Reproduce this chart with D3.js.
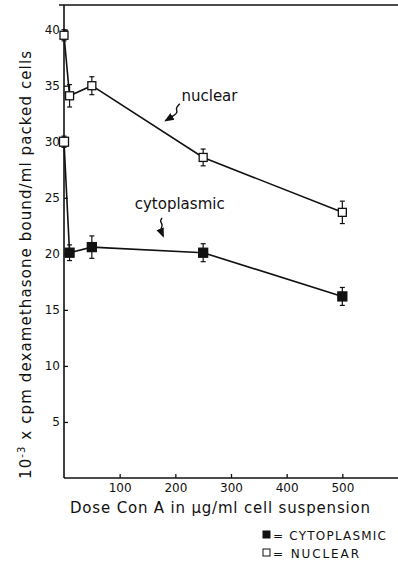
<!DOCTYPE html>
<html lang="en">
<head>
<meta charset="utf-8">
<title>Con A dose vs dexamethasone binding</title>
<script src="https://d3js.org/d3.v7.min.js"></script>
<style>
  body { margin: 0; background: #fff; }
  text { font-family: "DejaVu Sans", sans-serif; fill: #111; }
</style>
</head>
<body>
<div id="chart"></div>
<script>
// dose of Con A (ug/ml)
var nuclearDose = [0, 10, 50, 250, 500];
var nuclearValue = [39.5, 34.1, 35.0, 28.6, 23.7];
var nuclearErr = [0.5, 1.0, 0.8, 0.75, 1.0];

var cytoDose = [0, 10, 50, 250, 500];
var cytoValue = [30.0, 20.1, 20.6, 20.1, 16.2];
var cytoErr = [0.5, 0.7, 1.0, 0.8, 0.8];

var xTicks = [100, 200, 300, 400, 500];
var yTicks = [5, 10, 15, 20, 25, 30, 35, 40];

var W = 398, H = 563;
var margin = {top: 5, right: 0, bottom: 85, left: 64};

var svg = d3.select("#chart").append("svg")
    .attr("width", W).attr("height", H);

var x = d3.scaleLinear().domain([0, 600]).range([margin.left, W - margin.right]);
var y = d3.scaleLinear().domain([0, 42.2]).range([H - margin.bottom, margin.top]);

// frame: left axis, bottom axis, top rule
svg.append("line").attr("x1", x(0)).attr("x2", x(0)).attr("y1", y(42.2)).attr("y2", y(0))
    .attr("stroke", "#111").attr("stroke-width", 1.6);
svg.append("line").attr("x1", x(0)).attr("x2", x(600)).attr("y1", y(0)).attr("y2", y(0))
    .attr("stroke", "#111").attr("stroke-width", 1.6);
svg.append("line").attr("x1", x(0) - 5).attr("x2", x(600)).attr("y1", y(42.2)).attr("y2", y(42.2))
    .attr("stroke", "#111").attr("stroke-width", 1.6);

var yAxis = svg.append("g")
    .attr("transform", "translate(" + x(0) + ",0)")
    .call(d3.axisLeft(y).tickValues(yTicks).tickSize(-4).tickSizeOuter(0).tickPadding(4));
yAxis.select(".domain").remove();
yAxis.selectAll("text").style("font-size", "12px").attr("font-family", "DejaVu Sans");
yAxis.selectAll("line").attr("stroke", "#111").attr("stroke-width", 1.3);

var xAxis = svg.append("g")
    .attr("transform", "translate(0," + y(0) + ")")
    .call(d3.axisBottom(x).tickValues(xTicks).tickSize(-4).tickSizeOuter(0).tickPadding(5));
xAxis.select(".domain").remove();
xAxis.selectAll("text").style("font-size", "12px").attr("font-family", "DejaVu Sans");
xAxis.selectAll("line").attr("stroke", "#111").attr("stroke-width", 1.3);

// axis titles
var yl = svg.append("text")
    .attr("transform", "translate(31," + (H - 83 - 215) + ") rotate(-90)")
    .attr("text-anchor", "middle")
    .style("font-size", "15px")
    .attr("textLength", 428).attr("lengthAdjust", "spacing");
yl.append("tspan").text("10");
yl.append("tspan").attr("dy", -6).style("font-size", "10px").text("-3");
yl.append("tspan").attr("dy", 6).text(" x cpm dexamethasone bound/ml packed cells");

svg.append("text")
    .attr("x", 220).attr("y", 513)
    .attr("text-anchor", "middle")
    .style("font-size", "15px")
    .attr("textLength", 300).attr("lengthAdjust", "spacing")
    .text("Dose Con A in \u03BCg/ml cell suspension");

// series
function series(dose, val, err) {
  return dose.map(function(d, i) { return {dose: d, v: val[i], e: err[i]}; });
}
var nuc = series(nuclearDose, nuclearValue, nuclearErr);
var cyt = series(cytoDose, cytoValue, cytoErr);

var line = d3.line().x(function(d) { return x(d.dose); }).y(function(d) { return y(d.v); });

[nuc, cyt].forEach(function(s) {
  svg.append("path").datum(s).attr("d", line)
      .attr("fill", "none").attr("stroke", "#111").attr("stroke-width", 1.6);
});

function errorBars(s) {
  var g = svg.append("g").attr("stroke", "#111").attr("stroke-width", 1.2);
  s.forEach(function(d) {
    var cx = x(d.dose);
    g.append("line").attr("x1", cx).attr("x2", cx).attr("y1", y(d.v + d.e)).attr("y2", y(d.v - d.e));
    g.append("line").attr("x1", cx - 2.5).attr("x2", cx + 2.5).attr("y1", y(d.v + d.e)).attr("y2", y(d.v + d.e));
    g.append("line").attr("x1", cx - 2.5).attr("x2", cx + 2.5).attr("y1", y(d.v - d.e)).attr("y2", y(d.v - d.e));
  });
}
errorBars(nuc);
errorBars(cyt);

svg.selectAll(".nuc").data(nuc).enter().append("rect")
    .attr("x", function(d) { return x(d.dose) - 4; })
    .attr("y", function(d) { return y(d.v) - 4; })
    .attr("width", 8).attr("height", 8)
    .attr("fill", "#fff").attr("stroke", "#111").attr("stroke-width", 1.3);

svg.selectAll(".cyt").data(cyt).enter().append("rect")
    .attr("x", function(d) { return x(d.dose) - 4.5; })
    .attr("y", function(d) { return y(d.v) - 4.5; })
    .attr("width", 9).attr("height", 9)
    .attr("fill", function(d) { return d.dose === 0 ? "#fff" : "#111"; })
    .attr("stroke", "#111").attr("stroke-width", 1.3);

// annotations with squiggly arrows
svg.append("defs").append("marker")
    .attr("id", "head").attr("viewBox", "0 0 10 10").attr("refX", 8).attr("refY", 5)
    .attr("markerWidth", 7).attr("markerHeight", 7).attr("orient", "auto")
  .append("path").attr("d", "M0,1 L10,5 L0,9 Z").attr("fill", "#111");

svg.append("text").attr("x", x(211)).attr("y", y(33.6))
    .style("font-size", "15px").text("nuclear");
svg.append("text").attr("x", x(127)).attr("y", y(24.0))
    .style("font-size", "15px").attr("textLength", 90).text("cytoplasmic");

var squiggle = d3.line().curve(d3.curveBasis)
    .x(function(p) { return x(p[0]); }).y(function(p) { return y(p[1]); });
svg.append("path")
    .datum([[208, 33.4], [200, 33.0], [205, 32.6], [196, 32.3], [183, 31.9]])
    .attr("d", squiggle).attr("fill", "none").attr("stroke", "#111").attr("stroke-width", 1.4)
    .attr("marker-end", "url(#head)");
svg.append("path")
    .datum([[176, 23.2], [172, 22.9], [178, 22.6], [173, 22.2], [178, 21.6]])
    .attr("d", squiggle).attr("fill", "none").attr("stroke", "#111").attr("stroke-width", 1.4)
    .attr("marker-end", "url(#head)");

// legend
var legend = [{label: "= CYTOPLASMIC", fill: "#111", len: 113}, {label: "= NUCLEAR", fill: "#fff", len: 86}];
var lg = svg.selectAll(".lg").data(legend).enter().append("g")
    .attr("transform", function(d, i) { return "translate(263," + (535 + i * 18) + ")"; });
lg.append("rect").attr("x", 0).attr("y", -4).attr("width", 7).attr("height", 7)
    .attr("fill", function(d) { return d.fill; }).attr("stroke", "#111").attr("stroke-width", 1);
lg.append("text").attr("x", 10).attr("y", 4.5).style("font-size", "12px")
    .attr("textLength", function(d) { return d.len; })
    .text(function(d) { return d.label; });
</script>
</body>
</html>
